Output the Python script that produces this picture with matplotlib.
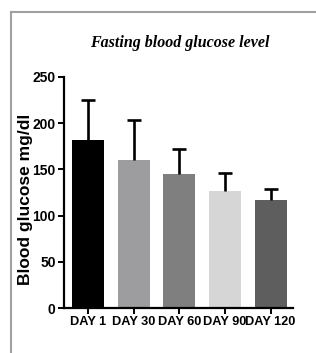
import matplotlib
matplotlib.use("Agg")
import matplotlib.pyplot as plt
from matplotlib.lines import Line2D

# ---- Data ----
days = ["DAY 1", "DAY 30", "DAY 60", "DAY 90", "DAY 120"]
glucose_mean = [182, 160, 145, 127, 117]
glucose_sd = [43, 44, 27, 19, 12]
y_ticks = [0, 50, 100, 150, 200, 250]
bar_colors = ["#000000", "#9d9da0", "#7f7f7f", "#d6d6d6", "#5e5e5e"]

W, H = 316, 353
fig = plt.figure(figsize=(W / 100, H / 100), dpi=100)

# outer grey frame (open on right/bottom, like the cropped original)
fig.add_artist(Line2D([11 / W, 11 / W], [0, 1 - 12 / H], color="#a0a0a0", lw=1.5,
                      transform=fig.transFigure))
fig.add_artist(Line2D([11 / W, 1], [1 - 12 / H, 1 - 12 / H], color="#a0a0a0", lw=1.5,
                      transform=fig.transFigure))

ax = fig.add_axes([64 / W, 1 - 308 / H, (293 - 64) / W, (308 - 77) / H])

x = list(range(len(days)))
ax.bar(x, glucose_mean, width=0.7, color=bar_colors, edgecolor="none", zorder=2)
_, caps, _ = ax.errorbar(x, glucose_mean, yerr=[[0] * len(days), glucose_sd], fmt="none",
                         ecolor="black", elinewidth=1.9, capsize=5.2, capthick=1.9, zorder=3)
caps[0].set_visible(False)   # only upper whiskers, like the original

ax.set_xlim(-0.53, 4.49)
ax.set_ylim(0, 250)
ax.set_yticks(y_ticks)
ax.set_xticks(x)

ax.set_xticklabels(days, family="Liberation Sans", weight="bold", size=9.2)
ax.set_yticklabels([str(v) for v in y_ticks], family="Liberation Sans", weight="bold", size=10)

for side in ["top", "right"]:
    ax.spines[side].set_visible(False)
for side in ["left", "bottom"]:
    ax.spines[side].set_linewidth(1.6)
ax.tick_params(axis="both", length=4, width=1.4, pad=2)

ax.set_ylabel("Blood glucose mg/dl", family="Liberation Sans", weight="bold", size=12.5)
ax.yaxis.set_label_coords(-0.135, 0.47)

fig.text(180 / W, 1 - 43 / H, "Fasting blood glucose level", ha="center", va="center",
         family="Liberation Serif", style="italic", weight="bold", size=11.5)

fig.savefig("out.png", dpi=100)
